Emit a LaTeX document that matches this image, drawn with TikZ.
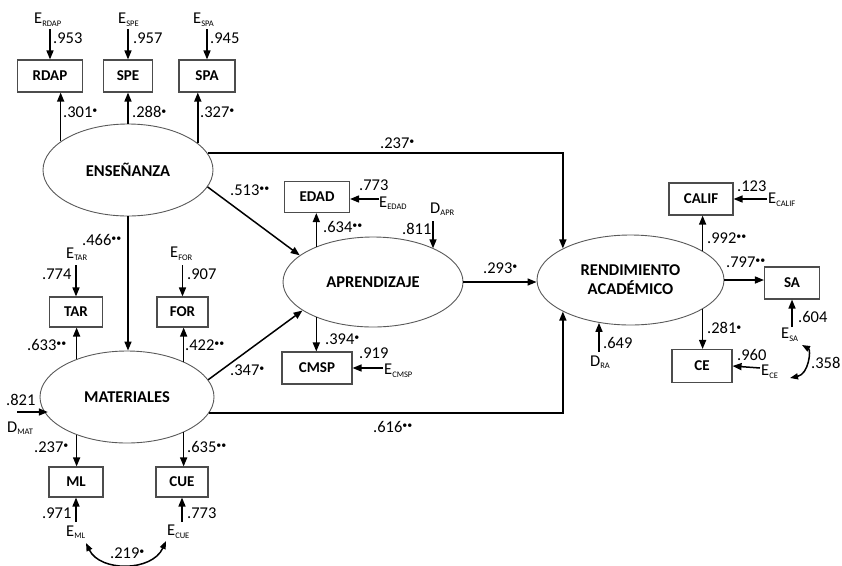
\documentclass[tikz,border=0pt]{standalone}
\usepackage{fontspec}
\setmainfont{Carlito}
\usetikzlibrary{arrows.meta,shapes.geometric,calc}
\newcommand{\sigA}{\raisebox{0.45ex}{\fontsize{10}{10}\selectfont\textbullet}}
\newcommand{\sigB}{\raisebox{0.45ex}{\fontsize{10}{10}\selectfont\textbullet\textbullet}}
\newcommand{\ee}[2]{#1\textsubscript{\fontsize{8.5}{8.5}\selectfont #2}}
\begin{document}
\begin{tikzpicture}[x=1pt,y=-1pt,
  box/.style={draw=black!70, line width=1.1pt, minimum height=32pt, inner sep=0pt, font=\fontsize{15}{15}\selectfont\bfseries},
  lat/.style={ellipse, draw=black!65, line width=0.9pt, inner sep=0pt, font=\fontsize{16.5}{19}\selectfont\bfseries, align=center},
  arr/.style={line width=1.5pt, -{Triangle[length=9pt,width=7pt]}},
  dbl/.style={line width=1.5pt, {Triangle[length=8pt,width=6pt]}-{Triangle[length=8pt,width=6pt]}},
  num/.style={anchor=west, inner sep=0pt, font=\fontsize{16.5}{16.5}\selectfont}]
\useasboundingbox (0,0) rectangle (842,565);
% latent variables
\node[lat, minimum width=170pt, minimum height=92pt] (ens) at (128,170) {ENSEÑANZA};
\node[lat, minimum width=174pt, minimum height=92pt] (mat) at (127,397) {MATERIALES};
\node[lat, minimum width=180pt, minimum height=90pt] (apr) at (373,282) {APRENDIZAJE};
\node[lat, minimum width=187pt, minimum height=90pt] (ra) at (630.5,280) {RENDIMIENTO\\ACADÉMICO};
% indicators
\node[box, minimum width=65pt] (rdap) at (50,76) {RDAP};
\node[box, minimum width=49pt] (spe) at (128,76) {SPE};
\node[box, minimum width=56pt] (spa) at (207,76) {SPA};
\node[box, minimum width=53pt, minimum height=30pt] (tar) at (76,312) {TAR};
\node[box, minimum width=51pt, minimum height=30pt] (for) at (182.5,312) {FOR};
\node[box, minimum width=54pt, minimum height=30pt] (ml) at (76,482) {ML};
\node[box, minimum width=52pt, minimum height=30pt] (cue) at (182,482) {CUE};
\node[box, minimum width=65pt, minimum height=31pt] (edad) at (317,197) {EDAD};
\node[box, minimum width=70pt] (cmsp) at (317,368) {CMSP};
\node[box, minimum width=64pt] (calif) at (701,199) {CALIF};
\node[box, minimum width=55pt] (sa) at (792,283) {SA};
\node[box, minimum width=60pt, minimum height=33pt] (ce) at (702,366) {CE};
% error labels
\node[num] (eRDAP) at (34,20) {\ee{E}{RDAP}};
\node[num] (eSPE) at (118,20) {\ee{E}{SPE}};
\node[num] (eSPA) at (193,20) {\ee{E}{SPA}};
\node[num] (eTAR) at (66,254) {\ee{E}{TAR}};
\node[num] (eFOR) at (170,254) {\ee{E}{FOR}};
\node[num] (eML) at (66,532) {\ee{E}{ML}};
\node[num] (eCUE) at (167,532) {\ee{E}{CUE}};
\node[num] (eEDAD) at (379,203) {\ee{E}{EDAD}};
\node[num] (eCMSP) at (384,371) {\ee{E}{CMSP}};
\node[num] (eCALIF) at (768,200) {\ee{E}{CALIF}};
\node[num] (eSA) at (781,335) {\ee{E}{SA}};
\node[num] (eCE) at (761,372) {\ee{E}{CE}};
\node[num] (dMAT) at (7,428) {\ee{D}{MAT}};
\node[num] (dAPR) at (430,209) {\ee{D}{APR}};
\node[num] (dRA) at (590,362) {\ee{D}{RA}};
% free ends
\coordinate (cRDAP) at (50,29);
\coordinate (cSPE) at (128,29);
\coordinate (cSPA) at (207,29);
\coordinate (cTAR) at (76,265);
\coordinate (cFOR) at (182.5,265);
\coordinate (cML) at (76,522);
\coordinate (cCUE) at (182,522);
\coordinate (cEDAD) at (379,199);
\coordinate (cCMSP) at (383,368);
\coordinate (cCALIF) at (767,199);
\coordinate (cSA) at (792,327);
\coordinate (cCE) at (760,368);
\coordinate (cMAT) at (17,412);
\coordinate (cAPR) at (433,221);
\coordinate (cRA) at (599,352);
% error arrows
\draw[arr] (cRDAP) -- (rdap.north);
\draw[arr] (cSPE) -- (spe.north);
\draw[arr] (cSPA) -- (spa.north);
\draw[arr] (cTAR) -- (tar.north);
\draw[arr] (cFOR) -- (for.north);
\draw[arr] (cML) -- (ml.south);
\draw[arr] (cCUE) -- (cue.south);
\draw[arr] (cEDAD) -- (cEDAD -| edad.east);
\draw[arr] (cCMSP) -- (cmsp.east);
\draw[arr] (cCALIF) -- (calif.east);
\draw[arr] (cSA) -- (sa.south);
\draw[arr] (cCE) -- (ce.east);
\draw[arr] (cMAT) -- (cMAT -| mat.194);
\draw[arr] (cAPR) -- (cAPR |- apr.29.2);
\draw[arr] (cRA) -- (cRA |- ra.-126.6);
% loadings
\draw[arr] (ens.157.9) -- (ens.157.9 |- rdap.south);
\draw[arr] (ens.north) -- (ens.north |- spe.south);
\draw[arr] (ens.21.3) -- (ens.21.3 |- spa.south);
\draw[arr] (mat.143) -- (mat.143 |- tar.south);
\draw[arr] (mat.32.9) -- (mat.32.9 |- for.south);
\draw[arr] (mat.-143) -- (mat.-143 |- ml.north);
\draw[arr] (mat.-32.9) -- (mat.-32.9 |- cue.north);
\draw[arr] (apr.148.6) -- (apr.148.6 |- edad.south);
\draw[arr] (apr.-148.6) -- (apr.-148.6 |- cmsp.north);
\draw[arr] (ra.22.1) -- (ra.22.1 |- calif.south);
\draw[arr] (ra.-22.1) -- (ra.-22.1 |- ce.north);
\draw[arr] (ra.east) -- (ra.east -| sa.west);
% structural paths
\draw[arr] (ens.south) -- (ens.south |- mat.north);
\draw[arr] (ens.-12) -- (apr.160);
\draw[arr] (mat.12.9) -- (apr.-158.5);
\draw[arr] (apr.east) -- (apr.east -| ra.west);
\draw[arr] (ens.12.1) -| (ra.155.9);
\draw[arr] (mat.-11.1) -| (ra.-155.9);
% covariances
\draw[dbl] (86,543) .. controls (100,572) and (152,572) .. (166,541);
\draw[dbl] (802,345) .. controls (811,350) and (809,374) .. (790,378);
% coefficients
\node[num] at (53,38) {.953};
\node[num] at (133,38) {.957};
\node[num] at (210,38) {.945};
\node[num] at (63,112) {.301\sigA};
\node[num] at (132,112) {.288\sigA};
\node[num] at (200,112) {.327\sigA};
\node[num] at (82,240) {.466\sigB};
\node[num] at (230,190) {.513\sigB};
\node[num] at (380,143) {.237\sigA};
\node[num] at (42,274) {.774};
\node[num] at (187,274) {.907};
\node[num] at (27,345) {.633\sigB};
\node[num] at (185,345) {.422\sigB};
\node[num] at (230,370) {.347\sigA};
\node[num] at (6,400) {.821};
\node[num] at (34,447) {.237\sigA};
\node[num] at (187,447) {.635\sigB};
\node[num] at (42,513) {.971};
\node[num] at (187,513) {.773};
\node[num] at (110,553) {.219\sigA};
\node[num] at (373,427) {.616\sigB};
\node[num] at (359,185) {.773};
\node[num] at (323,227) {.634\sigB};
\node[num] at (402,229) {.811};
\node[num] at (325,339) {.394\sigA};
\node[num] at (359,353) {.919};
\node[num] at (483,268) {.293\sigA};
\node[num] at (737,186) {.123};
\node[num] at (707,238) {.992\sigB};
\node[num] at (726,262) {.797\sigB};
\node[num] at (798,317) {.604};
\node[num] at (707,328) {.281\sigA};
\node[num] at (737,355) {.960};
\node[num] at (603,343) {.649};
\node[num] at (811,363) {.358};
\end{tikzpicture}
\end{document}
